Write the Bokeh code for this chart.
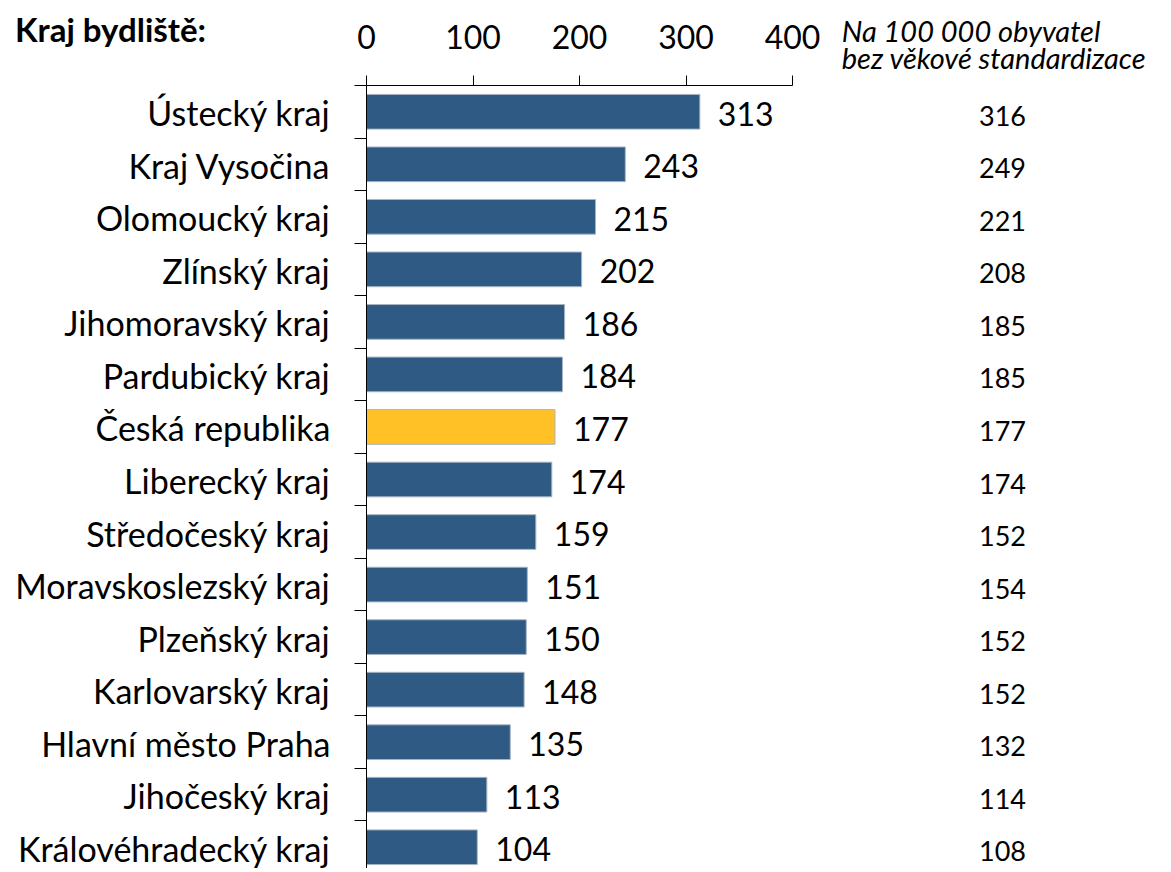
from bokeh.plotting import figure
from bokeh.models import Range1d, FixedTicker, ColumnDataSource, Title
from bokeh.layouts import row
from bokeh.embed import file_html
from bokeh.resources import INLINE
from bokeh.core.properties import value

regions = ["Ústecký kraj", "Kraj Vysočina", "Olomoucký kraj", "Zlínský kraj",
           "Jihomoravský kraj", "Pardubický kraj", "Česká republika", "Liberecký kraj",
           "Středočeský kraj", "Moravskoslezský kraj", "Plzeňský kraj", "Karlovarský kraj",
           "Hlavní město Praha", "Jihočeský kraj", "Královéhradecký kraj"]
standardized = [313, 243, 215, 202, 186, 184, 177, 174, 159, 151, 150, 148, 135, 113, 104]
crude = [316, 249, 221, 208, 185, 185, 177, 174, 152, 154, 152, 152, 132, 114, 108]
x_ticks = [0, 100, 200, 300, 400]
left_title = "Kraj bydliště:"
right_title = ["Na 100 000 obyvatel", "bez věkové standardizace"]

BLUE = "#2E5A84"
YELLOW = "#FFC125"
FONT = "Lato"

n = len(regions)
ypos = [i + 0.5 for i in range(n)]
colors = [YELLOW if r == "Česká republika" else BLUE for r in regions]

TOTAL_H = 868
TOP = 80
FRAME_H = TOTAL_H - TOP
W_LEFT = 346
MAIN_BORDER_L = 20
MAIN_FRAME_W = 426
MAIN_BORDER_R = 30
W_RIGHT = 1165 - W_LEFT - MAIN_BORDER_L - MAIN_FRAME_W - MAIN_BORDER_R

src = ColumnDataSource(dict(y=ypos, v=standardized, c=colors, reg=regions,
                            lab=[str(v) for v in standardized],
                            crude=[str(v) for v in crude]))

# ---- left: category labels ----
lf = figure(title=None, frame_width=W_LEFT, frame_height=FRAME_H,
            min_border_left=0, min_border_right=0, min_border_top=TOP, min_border_bottom=0,
            x_range=Range1d(0, W_LEFT), y_range=Range1d(n, 0),
            x_axis_location="above",
            output_backend="svg", toolbar_location=None)
lf.outline_line_color = None
lf.grid.visible = False
lf.yaxis.visible = False
lf.text(x=W_LEFT - 16, y="y", text="reg", source=src, y_offset=1,
        text_align="right", text_baseline="middle", text_font=value(FONT),
        text_font_size="34px", text_color="black")
# header "Kraj bydliště:" drawn as the single label of the top axis of this panel
TITLE_X = 110
la = lf.xaxis[0]
la.ticker = FixedTicker(ticks=[TITLE_X])
la.major_label_overrides = {TITLE_X: left_title}
la.axis_line_color = None
la.major_tick_line_color = None
la.minor_tick_line_color = None
la.major_tick_out = 0
la.major_tick_in = 0
la.minor_tick_out = 0
la.minor_tick_in = 0
la.major_label_text_font = FONT
la.major_label_text_font_size = "33px"
la.major_label_text_font_style = "bold"
la.major_label_text_color = "black"
la.major_label_standoff = 37

# ---- main bar chart ----
p = figure(title=None, frame_width=MAIN_FRAME_W, frame_height=FRAME_H,
           min_border_left=MAIN_BORDER_L, min_border_right=MAIN_BORDER_R,
           min_border_top=TOP, min_border_bottom=0,
           x_range=Range1d(0, 400), y_range=Range1d(n, 0),
           x_axis_location="above", output_backend="svg", toolbar_location=None)
p.outline_line_color = None
p.grid.visible = False

p.hbar(y="y", right="v", left=0, height=0.66, fill_color="c", line_color="#A9B4C2",
       line_width=1, source=src)
p.text(x="v", y="y", text="lab", source=src, x_offset=18, y_offset=2,
       text_align="left", text_baseline="middle", text_font=value(FONT),
       text_font_size="32px", text_color="black")

xa = p.xaxis[0]
xa.ticker = FixedTicker(ticks=x_ticks)
xa.major_tick_out = 10
xa.major_tick_in = 0
xa.minor_tick_out = 0
xa.minor_tick_in = 0
xa.axis_line_color = "black"
xa.major_tick_line_color = "black"
xa.major_label_text_font = FONT
xa.major_label_text_font_size = "32px"
xa.major_label_text_color = "black"
xa.major_label_standoff = 27

ya = p.yaxis[0]
ya.ticker = FixedTicker(ticks=list(range(n + 1)))
ya.major_label_overrides = {i: "" for i in range(n + 1)}
ya.major_label_text_font_size = "0px"
ya.major_label_standoff = 0
ya.major_tick_out = 12
ya.major_tick_in = 0
ya.minor_tick_out = 0
ya.minor_tick_in = 0
ya.major_tick_line_color = "black"
ya.axis_line_color = "black"

# ---- right column ----
rf = figure(title=None, frame_width=W_RIGHT, frame_height=FRAME_H,
            min_border_left=0, min_border_right=0, min_border_top=TOP, min_border_bottom=0,
            x_range=Range1d(0, W_RIGHT), y_range=Range1d(n, 0),
            output_backend="svg", toolbar_location=None)
rf.outline_line_color = None
rf.grid.visible = False
rf.axis.visible = False
rf.text(x=180, y="y", text="crude", source=src, y_offset=4,
        text_align="center", text_baseline="middle", text_font=value(FONT),
        text_font_size="27px", text_color="black")
rf.add_layout(Title(text="\n".join(right_title), align="center", offset=4, standoff=20,
                    text_font=FONT, text_font_size="29px", text_font_style="italic",
                    text_line_height=0.79, text_color="black"), "above")

layout = row(lf, p, rf)
open("out.html", "w").write(file_html(layout, INLINE))
